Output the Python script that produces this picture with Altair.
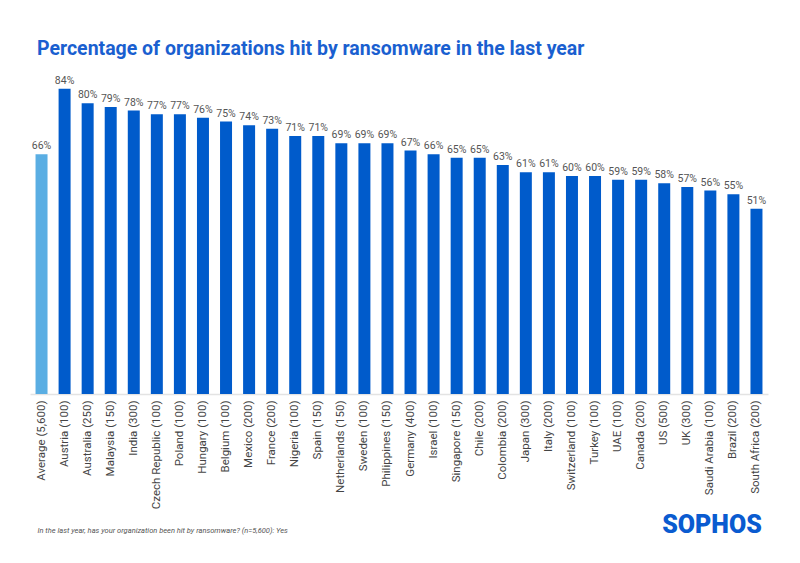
import altair as alt
import pandas as pd

countries = ["Average (5,600)", "Austria (100)", "Australia (250)", "Malaysia (150)", "India (300)",
             "Czech Republic (100)", "Poland (100)", "Hungary (100)", "Belgium (100)", "Mexico (200)",
             "France (200)", "Nigeria (100)", "Spain (150)", "Netherlands (150)", "Sweden (100)",
             "Philippines (150)", "Germany (400)", "Israel (100)", "Singapore (150)", "Chile (200)",
             "Colombia (200)", "Japan (300)", "Italy (200)", "Switzerland (100)", "Turkey (100)",
             "UAE (100)", "Canada (200)", "US (500)", "UK (300)", "Saudi Arabia (100)",
             "Brazil (200)", "South Africa (200)"]
values = [66, 84, 80, 79, 78, 77, 77, 76, 75, 74, 73, 71, 71, 69, 69, 69, 67, 66, 65, 65,
          63, 61, 61, 60, 60, 59, 59, 58, 57, 56, 55, 51]
kinds = ["avg"] + ["country"] * (len(countries) - 1)

df = pd.DataFrame({"country": countries, "value": values, "kind": kinds})
df["label"] = df["value"].astype(str) + "%"

FONT = "Roboto"
footer = "In the last year, has your organization been hit by ransomware? (n=5,600): Yes"

x = alt.X("country:N", sort=countries,
          scale=alt.Scale(paddingInner=0.48, paddingOuter=0.24),
          axis=alt.Axis(title=footer, labelAngle=-90, ticks=False, labelPadding=6,
                        labelFontSize=11.5, labelColor="#444", labelFont=FONT,
                        domainColor="#e3e3e3", domainWidth=1.5,
                        titleAnchor="start", titleX=7, titleAlign="left",
                        titleFontStyle="italic", titleFontWeight="normal",
                        titleFontSize=7.5, titleColor="#555",
                        titleFont="Liberation Sans Narrow, Roboto",
                        titlePadding=18))
y = alt.Y("value:Q", scale=alt.Scale(domain=[0, 90]), axis=None)

bars = alt.Chart(df).mark_bar().encode(
    x=x, y=y,
    color=alt.Color("kind:N", scale=alt.Scale(domain=["avg", "country"],
                                              range=["#5aaee3", "#005bcb"]), legend=None),
)
labels = alt.Chart(df).mark_text(dy=-8, fontSize=10.5, color="#555", font=FONT).encode(
    x=alt.X("country:N", sort=countries), y=y, text="label:N")

logo = alt.Chart(pd.DataFrame({"t": ["SOPHOS"]})).mark_text(
    fontSize=25, fontWeight=900, color="#0a5bd0", font=FONT, align="center", baseline="middle"
).encode(x=alt.value(682), y=alt.value(458), text="t:N")

chart = alt.layer(bars, labels, logo).properties(
    width=738, height=327,
    autosize=alt.AutoSizeParams(type="none"),
    padding={"left": 22, "top": 59, "right": 20, "bottom": 150},
    title=alt.TitleParams("Percentage of organizations hit by ransomware in the last year",
                          anchor="start", dx=7, offset=8, fontSize=19.5, fontWeight="bold",
                          color="#1a5fd0", font=FONT),
).configure_view(stroke=None)

chart.save("out.html", embed_options={"renderer": "svg", "actions": False})
